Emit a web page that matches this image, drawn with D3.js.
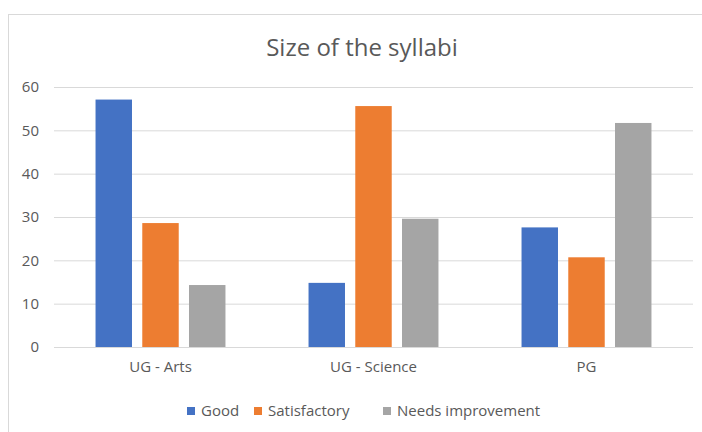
<!DOCTYPE html>
<html>
<head>
<meta charset="utf-8">
<script src="https://cdn.jsdelivr.net/npm/d3@7"></script>
<style>
  body { margin: 0; background: #fff; }
  svg text { font-family: "Open Sans", sans-serif; fill: #595959; }
</style>
</head>
<body>
<div id="chart"></div>
<script>
var width = 702,
    height = 432;

// data (percent of respondents)
var categories = ["UG - Arts", "UG - Science", "PG"];
var series = ["Good", "Satisfactory", "Needs improvement"];
var good = [57.1, 14.8, 27.6];
var satisfactory = [28.6, 55.6, 20.7];
var needsImprovement = [14.3, 29.6, 51.7];
var yTicks = [0, 10, 20, 30, 40, 50, 60];
var colors = ["#4472C4", "#ED7D31", "#A5A5A5"];

var values = [good, satisfactory, needsImprovement];

var svg = d3.select("#chart")
    .append("svg")
    .attr("width", width)
    .attr("height", height);

// chart frame
svg.append("rect")
    .attr("x", 8.5)
    .attr("y", 14.5)
    .attr("width", 720)
    .attr("height", 440)
    .attr("fill", "#fff")
    .attr("stroke", "#d9d9d9");

svg.append("text")
    .attr("x", 362)
    .attr("y", 56)
    .attr("text-anchor", "middle")
    .attr("font-size", 24)
    .text("Size of the syllabi");

var x0 = d3.scaleBand()
    .domain(categories)
    .range([54, 693])
    .paddingInner(0.39)
    .paddingOuter(0.195);

var x1 = d3.scaleBand()
    .domain(series)
    .range([0, x0.bandwidth()])
    .paddingInner(0.22);

var y = d3.scaleLinear()
    .domain([0, 60])
    .range([347, 87]);

// gridlines + y labels
var yAxis = svg.append("g")
    .attr("transform", "translate(54,0)")
    .call(d3.axisLeft(y).tickValues(yTicks).tickSize(-(693 - 54)).tickPadding(15));
yAxis.select(".domain").remove();
yAxis.selectAll(".tick line").attr("stroke", "#d9d9d9");
yAxis.selectAll(".tick text")
    .attr("font-size", 15)
    .attr("fill", "#595959")
    .attr("font-family", "Open Sans, sans-serif");

svg.selectAll("g.cat")
    .data(categories).enter()
    .append("g")
    .attr("class", "cat")
    .attr("transform", function(d) { return "translate(" + x0(d) + ",0)"; })
    .selectAll("rect")
    .data(function(d, i) {
        return series.map(function(s, j) { return {s: s, v: values[j][i], c: colors[j]}; });
    }).enter()
    .append("rect")
    .attr("x", function(d) { return x1(d.s); })
    .attr("y", function(d) { return y(d.v); })
    .attr("width", x1.bandwidth())
    .attr("height", function(d) { return y(0) - y(d.v); })
    .attr("fill", function(d) { return d.c; });

// category labels
var xAxis = svg.append("g")
    .attr("transform", "translate(0," + y(0) + ")")
    .call(d3.axisBottom(x0).tickSize(0).tickPadding(14));
xAxis.select(".domain").remove();
xAxis.selectAll(".tick text")
    .attr("font-size", 15)
    .attr("fill", "#595959")
    .attr("font-family", "Open Sans, sans-serif");

// legend
var legendX = [187, 254, 383];
var legend = svg.selectAll("g.legend")
    .data(series).enter()
    .append("g")
    .attr("class", "legend")
    .attr("transform", function(d, i) { return "translate(" + legendX[i] + ",411)"; });
legend.append("rect")
    .attr("x", 0)
    .attr("y", -4)
    .attr("width", 8)
    .attr("height", 8)
    .attr("fill", function(d, i) { return colors[i]; });
legend.append("text")
    .attr("x", 14)
    .attr("dy", "0.35em")
    .attr("font-size", 15)
    .text(function(d) { return d; });
</script>
</body>
</html>
